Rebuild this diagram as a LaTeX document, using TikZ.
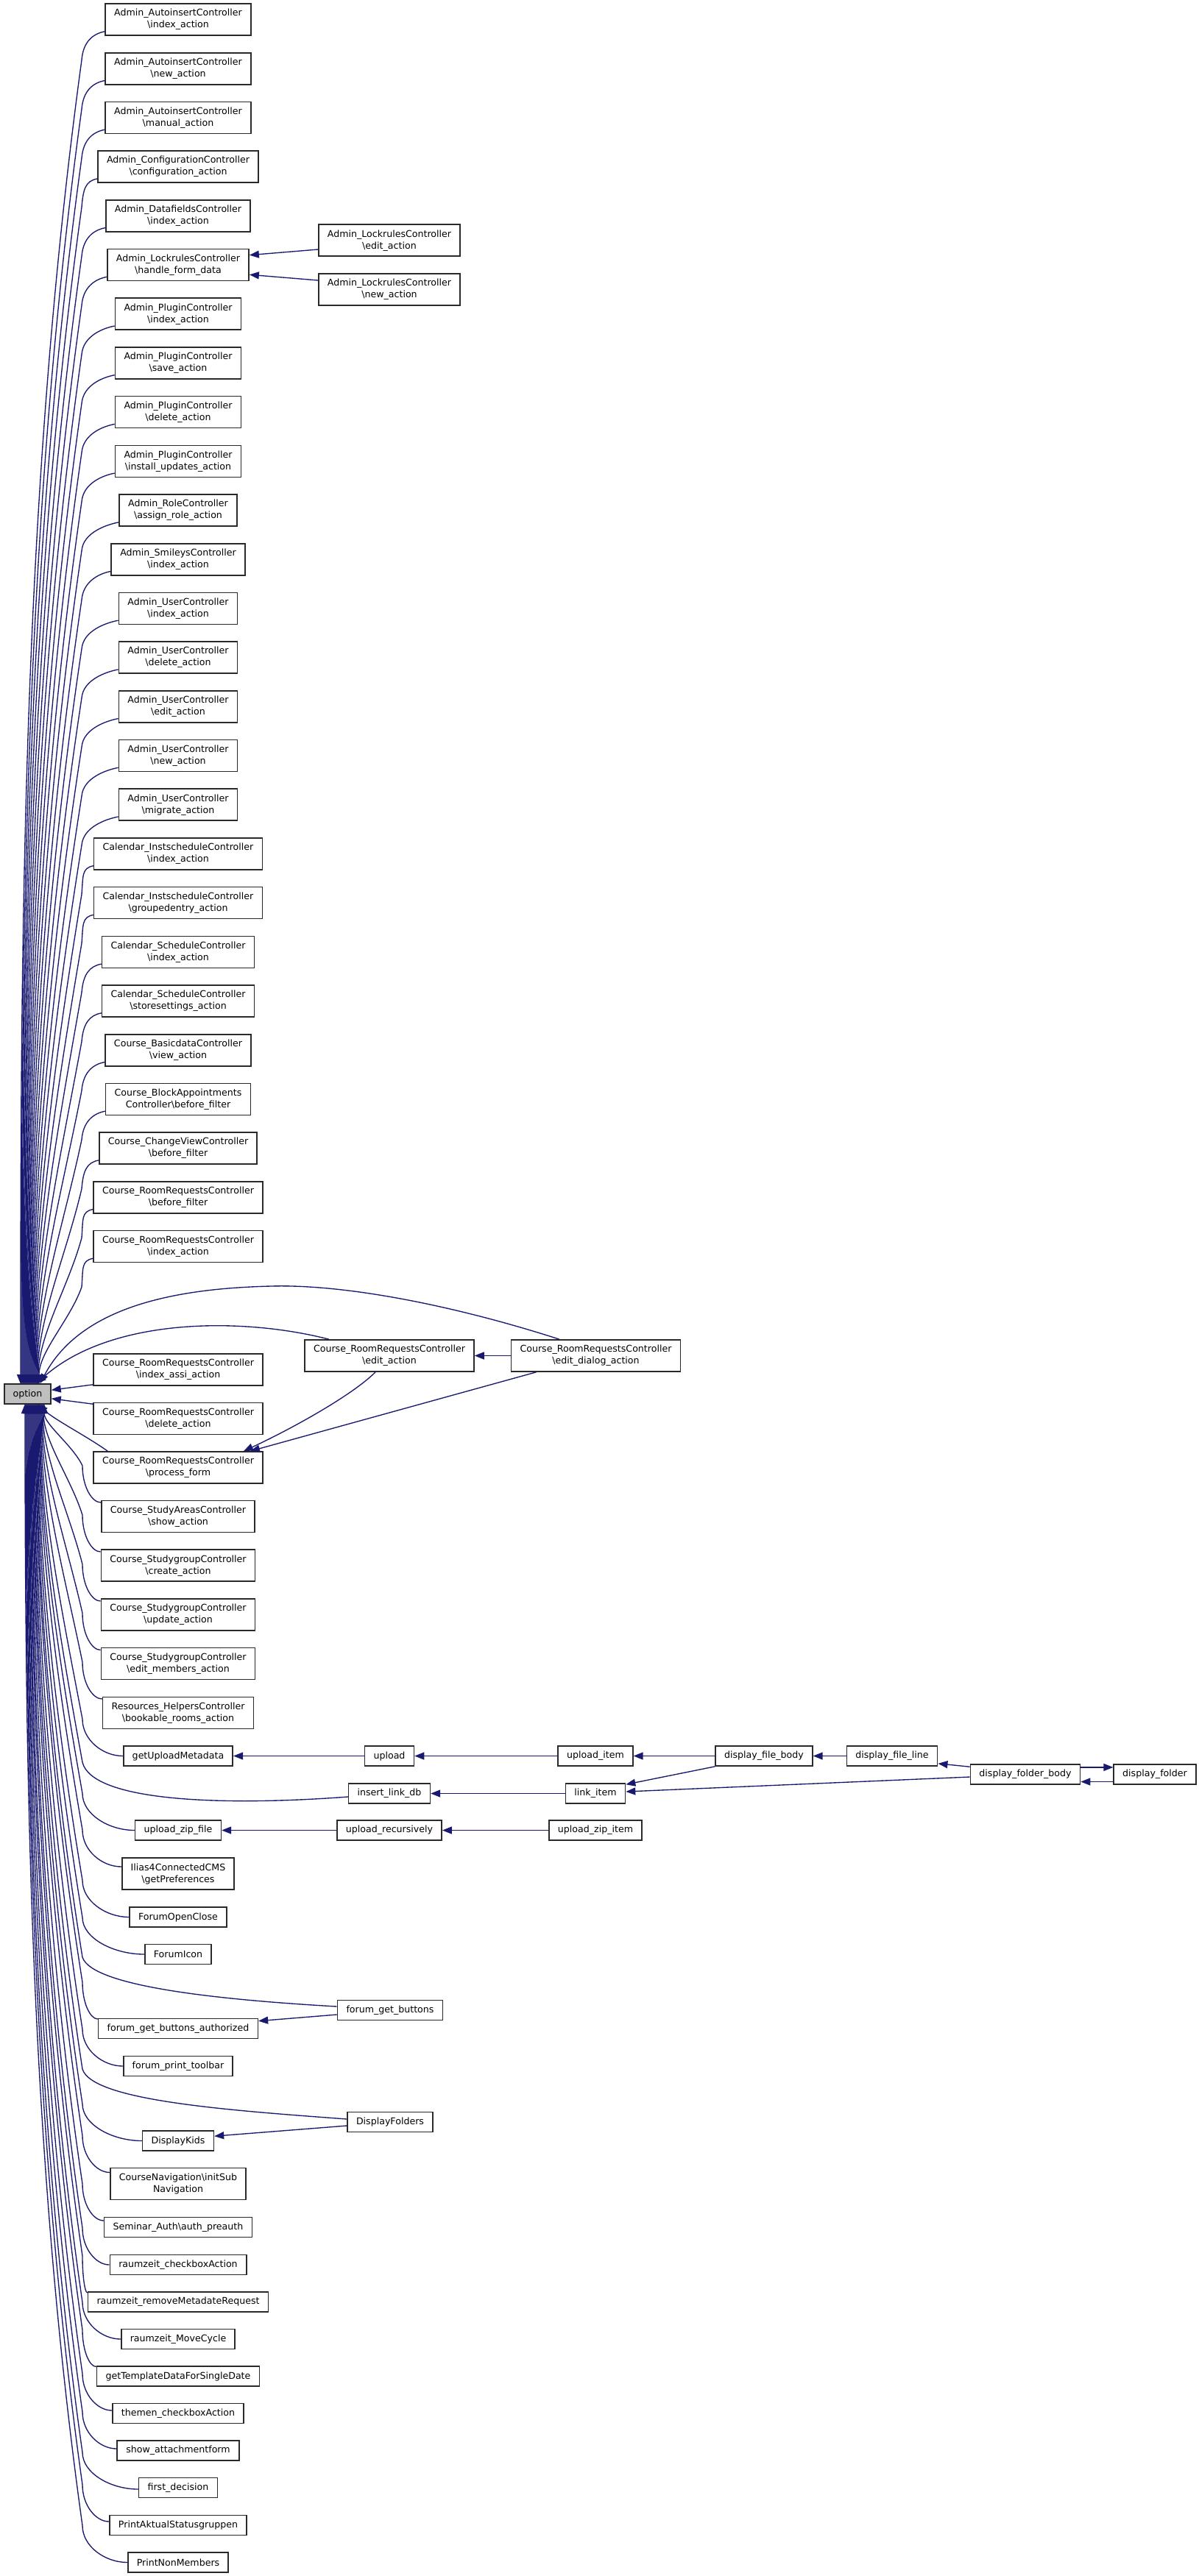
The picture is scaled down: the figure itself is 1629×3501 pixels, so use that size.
\documentclass[tikz,border=0pt]{standalone}
\usepackage{fontspec}
\setmainfont{DejaVu Sans}
\usetikzlibrary{arrows.meta,calc}
\definecolor{edgec}{HTML}{191970}
\definecolor{boxline}{HTML}{2A2A2A}
\newcommand\bsl{\textbackslash}
\newcommand\upe[3]{%
 \pgfmathsetmacro\myy{#2+55}%
 \pgfmathsetmacro\LL{1881-\myy}%
 \pgfmathsetmacro\kk{0.12+30/\LL}%
 \pgfmathsetmacro\cax{111-\kk*\LL/3}%
 \pgfmathsetmacro\cay{\myy+\LL/3}%
 \pgfmathsetmacro\cby{1881-\LL/3}%
 \draw[edge] ([yshift=6pt]#1.south west) .. controls +(-16,3) and (113,#2+30) .. (111,\myy) .. controls (\cax,\cay) and (#3,\cby) .. (#3,1881);}
\newcommand\lowe[3]{%
 \pgfmathsetmacro\myy{#2-50}%
 \pgfmathsetmacro\LL{\myy-1908}%
 \pgfmathsetmacro\kk{0.12+30/\LL}%
 \pgfmathsetmacro\cax{112-\kk*\LL/3}%
 \pgfmathsetmacro\cay{\myy-\LL/3}%
 \pgfmathsetmacro\cby{1908+\LL/3}%
 \draw[edge] (#1.west |- 0,#2) .. controls ($(#1.west |- 0,#2)!0.5!(112,#2)$) and (112,#2-22) .. (112,\myy) .. controls (\cax,\cay) and (#3,\cby) .. (#3,1908);}
\newcommand\lowx[5]{%
 \pgfmathsetmacro\LL{#4-1908}%
 \pgfmathsetmacro\kk{0.12+30/\LL}%
 \pgfmathsetmacro\cax{112-\kk*\LL/3}%
 \pgfmathsetmacro\cay{#4-\LL/3}%
 \pgfmathsetmacro\cby{1908+\LL/3}%
 \draw[edge] #1 .. controls #2 and #3 .. (112,#4) .. controls (\cax,\cay) and (#5,\cby) .. (#5,1908);}
\begin{document}
\begin{tikzpicture}[x=1pt,y=-1pt,
  box/.style={draw=boxline, line width=1.6pt, fill=white, font=\fontsize{12.6}{16}\selectfont,
    align=center, inner xsep=12pt, inner ysep=0pt, minimum height=27pt},
  box2/.style={box, minimum height=43pt},
  edge/.style={draw=edgec, line width=1.35pt, -{Triangle[length=13pt,width=10pt]}}]
\useasboundingbox (0,0) rectangle (1629,3501);
% ---------- main node
\node[box, fill=gray!50, inner xsep=10pt, minimum width=63pt] (opt) at (37.5,1894.5) {option};
% ---------- upper column
\node[box2] (u1) at (242,26.5) {Admin\_AutoinsertController\\\bsl index\_action};
\node[box2] (u2) at (242,93.2) {Admin\_AutoinsertController\\\bsl new\_action};
\node[box2] (u3) at (242,159.9) {Admin\_AutoinsertController\\\bsl manual\_action};
\node[box2] (u4) at (242,226.6) {Admin\_ConfigurationController\\\bsl configuration\_action};
\node[box2] (u5) at (242,293.3) {Admin\_DatafieldsController\\\bsl index\_action};
\node[box2] (u6) at (242,360.0) {Admin\_LockrulesController\\\bsl handle\_form\_data};
\node[box2] (u7) at (242,426.7) {Admin\_PluginController\\\bsl index\_action};
\node[box2] (u8) at (242,493.4) {Admin\_PluginController\\\bsl save\_action};
\node[box2] (u9) at (242,560.1) {Admin\_PluginController\\\bsl delete\_action};
\node[box2] (u10) at (242,626.8) {Admin\_PluginController\\\bsl install\_updates\_action};
\node[box2] (u11) at (242,693.5) {Admin\_RoleController\\\bsl assign\_role\_action};
\node[box2] (u12) at (242,760.2) {Admin\_SmileysController\\\bsl index\_action};
\node[box2] (u13) at (242,826.9) {Admin\_UserController\\\bsl index\_action};
\node[box2] (u14) at (242,893.6) {Admin\_UserController\\\bsl delete\_action};
\node[box2] (u15) at (242,960.3) {Admin\_UserController\\\bsl edit\_action};
\node[box2] (u16) at (242,1027.0) {Admin\_UserController\\\bsl new\_action};
\node[box2] (u17) at (242,1093.7) {Admin\_UserController\\\bsl migrate\_action};
\node[box2] (u18) at (242,1160.4) {Calendar\_InstscheduleController\\\bsl index\_action};
\node[box2] (u19) at (242,1227.1) {Calendar\_InstscheduleController\\\bsl groupedentry\_action};
\node[box2] (u20) at (242,1293.8) {Calendar\_ScheduleController\\\bsl index\_action};
\node[box2] (u21) at (242,1360.5) {Calendar\_ScheduleController\\\bsl storesettings\_action};
\node[box2] (u22) at (242,1427.2) {Course\_BasicdataController\\\bsl view\_action};
\node[box2] (u23) at (242,1493.9) {Course\_BlockAppointments\\Controller\bsl before\_filter};
\node[box2] (u24) at (242,1560.6) {Course\_ChangeViewController\\\bsl before\_filter};
\node[box2] (u25) at (242,1627.3) {Course\_RoomRequestsController\\\bsl before\_filter};
\node[box2] (u26) at (242,1694.0) {Course\_RoomRequestsController\\\bsl index\_action};
% Lockrules callers
\node[box2] (lre) at (529,326.7) {Admin\_LockrulesController\\\bsl edit\_action};
\node[box2] (lrn) at (529,393.3) {Admin\_LockrulesController\\\bsl new\_action};
% ---------- room requests
\node[box2] (cea) at (529,1842.5) {Course\_RoomRequestsController\\\bsl edit\_action};
\node[box2] (ced) at (809.5,1842.5) {Course\_RoomRequestsController\\\bsl edit\_dialog\_action};
\node[box2] (cia) at (242,1861.5) {Course\_RoomRequestsController\\\bsl index\_assi\_action};
\node[box2] (cde) at (242,1928) {Course\_RoomRequestsController\\\bsl delete\_action};
\node[box2] (cpf) at (242,1994.5) {Course\_RoomRequestsController\\\bsl process\_form};
% ---------- lower column
\node[box2] (csa) at (242,2061) {Course\_StudyAreasController\\\bsl show\_action};
\node[box2] (cgc) at (242,2127.7) {Course\_StudygroupController\\\bsl create\_action};
\node[box2] (cgu) at (242,2194.4) {Course\_StudygroupController\\\bsl update\_action};
\node[box2] (cgm) at (242,2261) {Course\_StudygroupController\\\bsl edit\_members\_action};
\node[box2] (rhc) at (242,2327.8) {Resources\_HelpersController\\\bsl bookable\_rooms\_action};
\node[box] (gum) at (242,2386.5) {getUploadMetadata};
\node[box] (upl) at (529,2386.5) {upload};
\node[box] (upi) at (809,2386.5) {upload\_item};
\node[box] (dfb) at (1038,2386.5) {display\_file\_body};
\node[box] (dfl) at (1212,2386.5) {display\_file\_line};
\node[box] (dfob) at (1393,2411.5) {display\_folder\_body};
\node[box] (dfo) at (1569,2411.5) {display\_folder};
\node[box] (ild) at (529,2437.5) {insert\_link\_db};
\node[box] (lki) at (809,2437.5) {link\_item};
\node[box] (uzf) at (242,2487.5) {upload\_zip\_file};
\node[box] (urc) at (529,2487.5) {upload\_recursively};
\node[box] (uzi) at (809,2487.5) {upload\_zip\_item};
\node[box2] (ilc) at (242,2546.5) {Ilias4ConnectedCMS\\\bsl getPreferences};
\node[box] (foc) at (242,2605.5) {ForumOpenClose};
\node[box] (fic) at (242,2656) {ForumIcon};
\node[box] (fgb) at (530,2732) {forum\_get\_buttons};
\node[box] (fgba) at (242,2757) {forum\_get\_buttons\_authorized};
\node[box] (fpt) at (242,2808) {forum\_print\_toolbar};
\node[box] (dfs) at (530,2884) {DisplayFolders};
\node[box] (dk) at (242,2909.5) {DisplayKids};
\node[box2] (cni) at (242,2968) {CourseNavigation\bsl initSub\\Navigation};
\node[box] (sap) at (242,3027) {Seminar\_Auth\bsl auth\_preauth};
\node[box] (rzc) at (242,3078) {raumzeit\_checkboxAction};
\node[box] (rzr) at (242,3128.5) {raumzeit\_removeMetadateRequest};
\node[box] (rzm) at (242,3179) {raumzeit\_MoveCycle};
\node[box] (gtd) at (242,3229.5) {getTemplateDataForSingleDate};
\node[box] (tca) at (242,3280) {themen\_checkboxAction};
\node[box] (saf) at (242,3330.5) {show\_attachmentform};
\node[box] (fdc) at (242,3381) {first\_decision};
\node[box] (pas) at (242,3432) {PrintAktualStatusgruppen};
\node[box] (pnm) at (242,3482.5) {PrintNonMembers};
% ---------- upper edges to option
\upe{u1}{26.5}{28}
\upe{u2}{93.2}{29}
\upe{u3}{159.9}{30}
\upe{u4}{226.6}{31}
\upe{u5}{293.3}{32}
\upe{u6}{360.0}{33}
\upe{u7}{426.7}{34}
\upe{u8}{493.4}{35}
\upe{u9}{560.1}{36}
\upe{u10}{626.8}{37}
\upe{u11}{693.5}{38}
\upe{u12}{760.2}{39}
\upe{u13}{826.9}{40}
\upe{u14}{893.6}{41}
\upe{u15}{960.3}{42}
\upe{u16}{1027.0}{43}
\upe{u17}{1093.7}{44}
\upe{u18}{1160.4}{45}
\upe{u19}{1227.1}{46}
\upe{u20}{1293.8}{47}
\upe{u21}{1360.5}{48}
\upe{u22}{1427.2}{49}
\upe{u23}{1493.9}{50}
\upe{u24}{1560.6}{51}
\upe{u25}{1627.3}{52}
\upe{u26}{1694.0}{53}
% Lockrules
\draw[edge] ([yshift=10pt]lre.south west) -- ([yshift=-9pt]u6.north east);
\draw[edge] ([yshift=-10pt]lrn.north west) -- ([yshift=9pt]u6.south east);
% room requests
\draw[edge] (ced.west) -- (cea.east);
\draw[edge] ([xshift=-82pt]cea.north) .. controls (330,1790) and (150,1790) .. ([xshift=12pt]opt.north);
\draw[edge] ([xshift=-49.5pt]ced.north) .. controls (620,1775) and (470,1745) .. (368,1748) .. controls (240,1751) and (110,1775) .. ([xshift=17pt]opt.north);
\draw[edge] ([yshift=2pt]cia.south west) -- ([yshift=-9pt]opt.north east);
\draw[edge] ([yshift=-2.5pt]cde.north west) -- ([yshift=8pt]opt.south east);
\draw[edge] ([xshift=20pt]cpf.north west) .. controls (118,1952) and (75,1930) .. ([xshift=14pt]opt.south);
\draw[edge] ([xshift=-19pt]cea.south) .. controls (480,1895) and (400,1940) .. ([xshift=89pt]cpf.north);
\draw[edge] ([xshift=-81pt]ced.south) -- ([xshift=98pt]cpf.north);
% lower edges to option
\lowe{csa}{2042}{60}
\lowe{cgc}{2109}{59}
\lowe{cgu}{2176}{58}
\lowe{cgm}{2242.5}{57}
\lowe{rhc}{2309}{56}
\lowe{gum}{2386.5}{55}
\lowx{([yshift=-4.5pt]ild.west)}{(300,2455)}{(125,2448)}{2395}{54}
\lowe{uzf}{2487.5}{53}
\lowe{ilc}{2537}{52}
\lowe{foc}{2605.5}{51}
\lowe{fic}{2656}{50}
\lowx{([yshift=5pt]fgb.west)}{(300,2718)}{(125,2700)}{2660}{49}
\lowe{fgba}{2744}{48}
\lowe{fpt}{2808}{47}
\lowx{([yshift=4pt]dfs.west)}{(310,2868)}{(125,2855)}{2812}{46}
\lowe{dk}{2909.5}{45}
\lowe{cni}{2952.5}{44}
\lowe{sap}{3018}{43}
\lowe{rzc}{3078}{42}
\lowe{rzr}{3116}{41}
\lowe{rzm}{3179}{40}
\lowe{gtd}{3216.5}{39}
\lowe{tca}{3276}{38}
\lowe{saf}{3328}{37}
\lowe{fdc}{3383}{36}
\lowe{pas}{3427}{35}
\lowe{pnm}{3482.5}{34}
% upload chains
\draw[edge] (upl.west) -- (gum.east);
\draw[edge] (upi.west) -- (upl.east);
\draw[edge] (dfb.west) -- (upi.east);
\draw[edge] (dfl.west) -- (dfb.east);
\draw[edge] (lki.west) -- (ild.east);
\draw[edge] (dfb.south west) -- ([yshift=-2pt]lki.north east);
\draw[edge] ([yshift=-3.5pt]dfob.west) -- ([yshift=2.5pt]lki.east);
\draw[edge] ([yshift=-4pt]dfob.north west) -- ([yshift=4pt]dfl.south east);
\draw[edge] ([yshift=-4.7pt]dfob.north east) -- ([yshift=-4.7pt]dfo.north west);
\draw[edge] ([yshift=4.3pt]dfo.south west) -- ([yshift=4.3pt]dfob.south east);
\draw[edge] (uzi.west) -- (urc.east);
\draw[edge] (urc.west) -- (uzf.east);
% forum / folders
\draw[edge] ([yshift=-6pt]fgb.west) -- ([yshift=-4pt]fgba.north east);
\draw[edge] ([yshift=-5pt]dfs.west) -- ([yshift=-8pt]dk.north east);
\end{tikzpicture}
\end{document}
